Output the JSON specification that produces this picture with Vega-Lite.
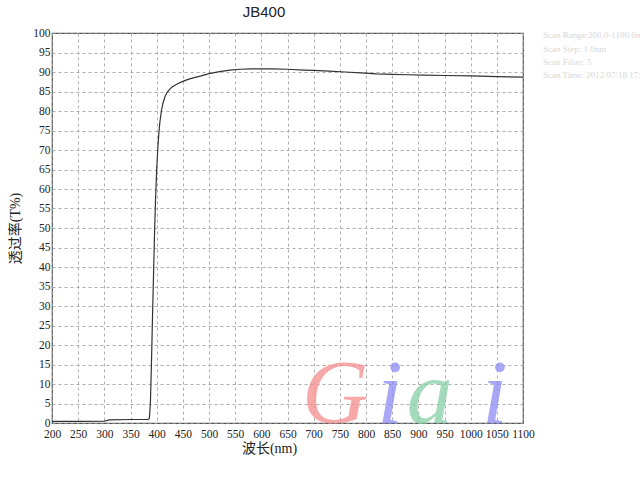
{
  "$schema": "https://vega.github.io/schema/vega-lite/v6.json",
  "autosize": {"type": "none"},
  "padding": {"left": 52, "top": 33, "right": 117, "bottom": 57},
  "width": 471,
  "height": 390,
  "background": "white",
  "title": {"text": "JB400", "font": "Liberation Sans", "fontSize": 15, "fontWeight": "normal", "color": "#222", "anchor": "start", "dx": 234, "offset": 7},
  "config": {
    "view": {"stroke": "#555", "strokeWidth": 1.2},
    "axis": {
      "grid": true, "gridDash": [3, 3], "gridColor": "#9a9a9a", "gridWidth": 0.8,
      "domain": false, "ticks": false,
      "labelFont": "Liberation Serif", "labelFontSize": 11.5, "labelColor": "#222",
      "titleFont": "Liberation Serif, Noto Sans CJK SC", "titleFontSize": 14, "titleFontWeight": "normal", "titleColor": "#222"
    }
  },
  "datasets": {
    "curve": [
      {"wl": 200, "t": 0.4}, {"wl": 250, "t": 0.4}, {"wl": 300, "t": 0.5}, {"wl": 310, "t": 0.8},
      {"wl": 350, "t": 0.9}, {"wl": 384, "t": 0.9}, {"wl": 386, "t": 1.2}, {"wl": 388, "t": 5},
      {"wl": 390, "t": 15}, {"wl": 392, "t": 27}, {"wl": 394, "t": 38}, {"wl": 396, "t": 49},
      {"wl": 398, "t": 58}, {"wl": 400, "t": 65}, {"wl": 402, "t": 70}, {"wl": 404, "t": 74},
      {"wl": 406, "t": 77}, {"wl": 409, "t": 80}, {"wl": 412, "t": 82}, {"wl": 416, "t": 83.7},
      {"wl": 420, "t": 84.8}, {"wl": 425, "t": 85.6}, {"wl": 430, "t": 86.2}, {"wl": 440, "t": 87},
      {"wl": 450, "t": 87.6}, {"wl": 460, "t": 88.1}, {"wl": 470, "t": 88.5}, {"wl": 485, "t": 89},
      {"wl": 500, "t": 89.6}, {"wl": 520, "t": 90.1}, {"wl": 540, "t": 90.5}, {"wl": 560, "t": 90.7},
      {"wl": 580, "t": 90.8}, {"wl": 600, "t": 90.8}, {"wl": 620, "t": 90.8}, {"wl": 650, "t": 90.7},
      {"wl": 680, "t": 90.5}, {"wl": 700, "t": 90.4}, {"wl": 730, "t": 90.2}, {"wl": 760, "t": 90.0},
      {"wl": 790, "t": 89.8}, {"wl": 820, "t": 89.5}, {"wl": 850, "t": 89.4}, {"wl": 880, "t": 89.3},
      {"wl": 910, "t": 89.2}, {"wl": 950, "t": 89.1}, {"wl": 1000, "t": 89.0}, {"wl": 1050, "t": 88.8},
      {"wl": 1100, "t": 88.7}
    ],
    "mark": [
      {"letter": "G", "wl": 741, "t": 0, "k": "a"},
      {"letter": "i", "wl": 846, "t": 0, "k": "b"},
      {"letter": "a", "wl": 922, "t": 0, "k": "c"},
      {"letter": "i", "wl": 1046, "t": 0, "k": "b"}
    ],
    "info": [
      {"line": "Scan Range:200.0-1100.0nm", "wl": 1138, "t": 99.5},
      {"line": "Scan Step:   1.0nm", "wl": 1138, "t": 95.9},
      {"line": "Scan Filter:  5", "wl": 1138, "t": 92.6},
      {"line": "Scan Time:  2012/07/18  17:20", "wl": 1138, "t": 89.2}
    ]
  },
  "encoding": {
    "x": {"field": "wl", "type": "quantitative", "scale": {"domain": [200, 1100], "nice": false},
      "axis": {"values": [200,250,300,350,400,450,500,550,600,650,700,750,800,850,900,950,1000,1050,1100], "tickCount": 50, "format": "d", "title": "波长(nm)", "labelPadding": 5, "titleX": 217, "titlePadding": 2, "labelOverlap": false, "labelFlush": false}},
    "y": {"field": "t", "type": "quantitative", "scale": {"domain": [0, 100], "nice": false},
      "axis": {"values": [0,5,10,15,20,25,30,35,40,45,50,55,60,65,70,75,80,85,90,95,100], "tickCount": 50, "format": "d", "title": "透过率(T%)", "labelPadding": 2, "titlePadding": 10, "labelOverlap": false, "labelFlush": false}}
  },
  "layer": [
    {
      "data": {"name": "mark"},
      "mark": {"type": "text", "font": "Liberation Serif", "fontStyle": "italic", "fontSize": 92, "baseline": "alphabetic", "align": "center", "opacity": 0.75},
      "encoding": {
        "text": {"field": "letter"},
        "color": {"field": "k", "type": "nominal", "legend": null, "scale": {"domain": ["a", "b", "c"], "range": ["#f58b8b", "#8b8bf5", "#86d0a6"]}}
      }
    },
    {
      "data": {"name": "curve"},
      "mark": {"type": "line", "color": "#333", "strokeWidth": 1.2, "interpolate": "linear"},
      "encoding": {}
    },
    {
      "data": {"name": "info"},
      "mark": {"type": "text", "font": "Liberation Serif", "fontSize": 9, "align": "left", "baseline": "middle", "color": "#d8d8d8"},
      "encoding": {
        "text": {"field": "line"}
      }
    }
  ]
}
